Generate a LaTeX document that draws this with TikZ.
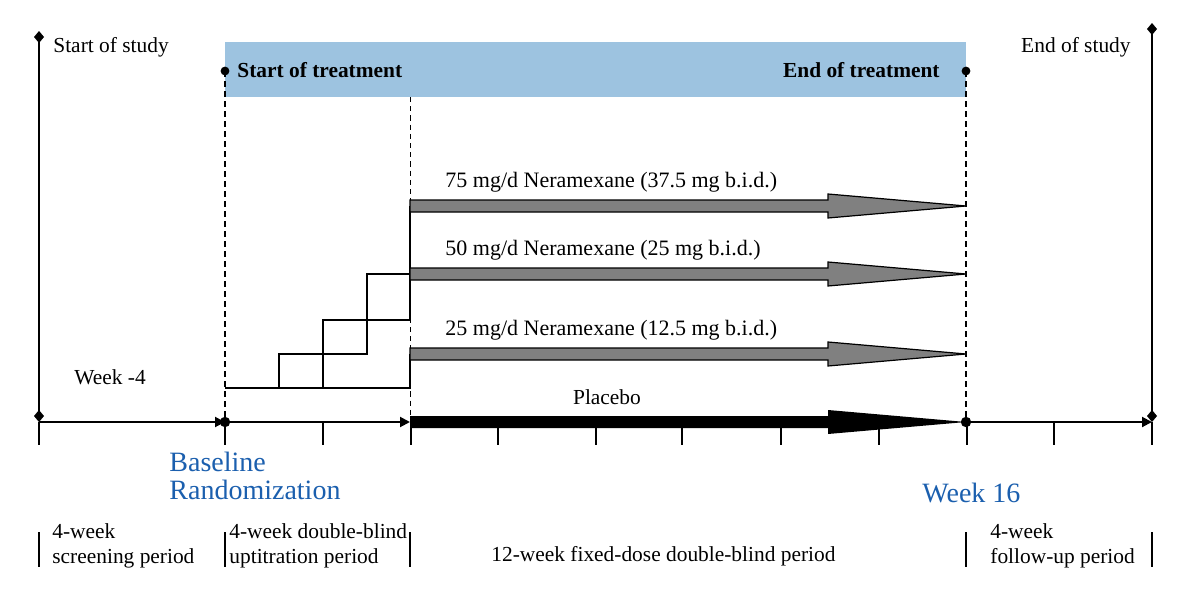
\documentclass[tikz,border=0pt]{standalone}
\usepackage{fontspec}
\setmainfont{Liberation Serif}
\usetikzlibrary{arrows.meta,positioning}
\definecolor{Band}{HTML}{9DC3E0}
\definecolor{Mark}{HTML}{1B5FAE}
\definecolor{Dose}{HTML}{808080}

\begin{document}
\begin{tikzpicture}[x=0.5pt, y=-0.5pt, font=\fontsize{10.7}{12.5}\selectfont,
  axis/.style={line width=1pt},
  guide/.style={line width=1pt, dash pattern=on 3pt off 2pt},
  thinguide/.style={line width=0.5pt, dash pattern=on 2.6pt off 2pt},
  axtip/.style={-{Triangle[length=5pt, width=5pt]}},
  bluetext/.style={font=\fontsize{14}{14}\selectfont, text=Mark, inner sep=0pt}]
  \useasboundingbox (0,0) rectangle (1200,605);

  % treatment band
  \fill[Band] (225,42) rectangle (966,97);

  % axis points
  \coordinate (s0) at (39,422);
  \coordinate (b0) at (225,422);
  \coordinate (u0) at (410,422);
  \coordinate (e0) at (966,422);
  \coordinate (f0) at (1152,422);
  \coordinate (s1) at (39,31);
  \coordinate (f1) at (1152,23);
  \coordinate (b1) at (225,71);
  \coordinate (u1) at (410,97);
  \coordinate (e1) at (966,71);

  % uptitration steps
  \draw[line width=0.6pt] (225,388) -- (410,388) -- (410,354);
  \draw[line width=0.6pt] (279,388) -- (279,354) -- (367,354) -- (367,274) -- (410,274);
  \draw[line width=0.6pt] (323,388) -- (323,320) -- (410,320) -- (410,206);

  % guides
  \draw[guide] (b1) -- (b0);
  \draw[guide] (e1) -- (e0);
  \draw[thinguide] (u1) -- (u0);
  \fill (b1) circle (2.2pt);
  \fill (e1) circle (2.2pt);

  % dose arms
  \foreach \yy/\txt in {206/{75 mg/d Neramexane (37.5 mg b.i.d.)},
                        274/{50 mg/d Neramexane (25 mg b.i.d.)},
                        354/{25 mg/d Neramexane (12.5 mg b.i.d.)}} {
    \filldraw[fill=Dose, draw=black, line width=0.6pt, line join=miter]
      (410,\yy-6) -- (828,\yy-6) -- (828,\yy-12) -- (966,\yy)
      -- (828,\yy+12) -- (828,\yy+6) -- (410,\yy+6) -- cycle;
    \node[anchor=west, inner sep=0pt, font=\fontsize{11}{13}\selectfont] at (445,\yy-24) {\txt};
  }
  \fill (410,416) -- (828,416) -- (828,410) -- (e0) -- (828,434) -- (828,428) -- (410,428) -- cycle;
  \node[inner sep=0pt] (pl) at (607,397) {Placebo};

  % time axis
  \foreach \xx in {39,225,323,411,498,596,682,781,879,967,1054,1152}
    \draw[line width=0.6pt] (\xx,422) -- (\xx,445);
  \draw[axis, axtip] (s0) -- (b0);
  \draw[axis, axtip] (b0) -- (u0);
  \draw[axis, axtip] (e0) -- (f0);
  \fill (b0) circle (2.6pt);
  \fill (e0) circle (2.6pt);
  \draw[axis, {Diamond[length=6pt, width=5pt]}-{Diamond[length=6pt, width=5pt]}] (s0) -- (s1);
  \draw[axis, {Diamond[length=6pt, width=5pt]}-{Diamond[length=6pt, width=5pt]}] (f0) -- (f1);

  % labels
  \node[anchor=west, inner sep=0pt] (ss) at (53,47) {Start of study};
  \node[anchor=east, inner sep=0pt] (es) at (1131,47) {End of study};
  \node[anchor=west, inner sep=0pt, font=\fontsize{10.7}{12.5}\selectfont\bfseries] (st) at (237,70) {Start of treatment};
  \node[anchor=east, inner sep=0pt, font=\fontsize{10.7}{12.5}\selectfont\bfseries] (et) at (940,70) {End of treatment};
  \node[anchor=west, inner sep=0pt] (w4) at (74,377) {Week -4};
  \node[bluetext, anchor=west, align=left] (bl) at (169,476) {Baseline\\Randomization};
  \node[bluetext, anchor=west] (w16) at (922,493) {Week 16};

  % periods
  \foreach \xx in {39,225,410,966,1152}
    \draw[line width=0.6pt] (\xx,532) -- (\xx,567);
  \node[anchor=west, align=left, inner sep=0pt] (p1) at (52,546) {4-week\\screening period};
  \node[anchor=west, align=left, inner sep=0pt] (p2) at (229,546) {4-week double-blind\\uptitration period};
  \node[anchor=west, inner sep=0pt] (p3) at (491,556) {12-week fixed-dose double-blind period};
  \node[anchor=west, align=left, inner sep=0pt] (p4) at (990,546) {4-week\\follow-up period};
\end{tikzpicture}
\end{document}
